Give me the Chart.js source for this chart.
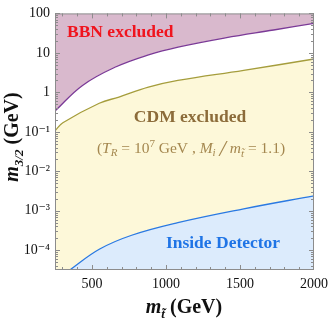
<!DOCTYPE html>
<html><head><meta charset="utf-8">
<script src="https://cdn.jsdelivr.net/npm/chart.js@4/dist/chart.umd.min.js"></script>
<style>html,body{margin:0;padding:0;background:#fff}</style>
</head><body>
<canvas id="c" width="334" height="321"></canvas>
<script>
// ---- data ----
const bbnMass = [250, 436, 663, 882, 1082, 1401, 1727, 2000];
const bbnM32  = [0.335, 1.5, 4.45, 8.9, 14, 24, 38, 56];
const cdmMass = [250, 303, 549, 682, 881, 1080, 1525, 2000];
const cdmM32  = [0.106, 0.17, 0.53, 0.76, 1.35, 2.0, 3.6, 7.0];
const detMass = [350, 549, 768, 1080, 1525, 2000];
const detM32  = [3.16e-5, 1.06e-4, 2.4e-4, 5.0e-4, 1.12e-3, 2.4e-3];
const xTicks = [500, 1000, 1500, 2000];
const yTicks = [1e-4, 1e-3, 1e-2, 1e-1, 1, 10, 100];
const yTickLabels = ['10⁻⁴', '10⁻³', '10⁻²', '10⁻¹', '1', '10', '100'];

const SERIF = '"Liberation Serif", "DejaVu Serif", serif';
const pts = (xs, ys) => xs.map((x, i) => ({x, y: ys[i]}));

function drawRich(ctx, segs, x, y, align) {
  let w = 0;
  segs.forEach(s => { ctx.font = s[1]; w += ctx.measureText(s[0]).width; });
  let cx = align === 'left' ? x : x - w / 2;
  ctx.textAlign = 'left';
  segs.forEach(s => {
    ctx.font = s[1];
    ctx.fillText(s[0], cx, y + (s[2] || 0));
    cx += ctx.measureText(s[0]).width;
  });
}

const framePlugin = {
  id: 'frame',
  afterDatasetsDraw(chart) {
    const {ctx, chartArea: a, scales: {x, y}} = chart;
    ctx.save();
    ctx.strokeStyle = '#8c8c8c';
    ctx.lineWidth = 1;
    ctx.strokeRect(a.left + 0.5, a.top + 0.5, a.right - a.left - 1, a.bottom - a.top - 1);
    ctx.beginPath();
    for (let v = 300; v <= 1900; v += 100) {
      const px = Math.round(x.getPixelForValue(v)) + 0.5;
      const L = v % 500 === 0 ? 5 : 3;
      ctx.moveTo(px, a.bottom); ctx.lineTo(px, a.bottom - L);
      ctx.moveTo(px, a.top); ctx.lineTo(px, a.top + L);
    }
    for (let e = -5; e <= 2; e++) {
      for (let k = 1; k <= 9; k++) {
        const v = k * Math.pow(10, e);
        if (v < y.min || v > y.max) continue;
        const py = Math.round(y.getPixelForValue(v)) + 0.5;
        const L = k === 1 ? 5 : 3;
        ctx.moveTo(a.left, py); ctx.lineTo(a.left + L, py);
        ctx.moveTo(a.right, py); ctx.lineTo(a.right - L, py);
      }
    }
    ctx.stroke();
    ctx.restore();
  },
  afterDraw(chart) {
    const {ctx} = chart;
    ctx.save();
    ctx.textBaseline = 'alphabetic';
    // region labels
    ctx.fillStyle = '#f0141e';
    ctx.font = 'bold 17.5px ' + SERIF;
    ctx.textAlign = 'left';
    ctx.fillText('BBN excluded', 67, 37);
    ctx.fillStyle = '#8c6c3a';
    ctx.textAlign = 'center';
    ctx.fillText('CDM excluded', 190, 122);
    ctx.fillStyle = '#1f74e6';
    ctx.fillText('Inside Detector', 223, 248);
    // parameter line
    ctx.fillStyle = '#a4874f';
    const fs = 15.5;
    const b = fs + 'px ' + SERIF, it = 'italic ' + fs + 'px ' + SERIF,
          sb = 'italic 11px ' + SERIF, sp = '11px ' + SERIF;
    drawRich(ctx, [
      ['(', b], ['T', it], ['R', sb, 3], [' = 10', b], ['7', sp, -6], [' GeV , ', b],
      ['M', it], ['i', sb, 3], [' ', b], ['/', 'italic 23px ' + SERIF, 3], [' ', b],
      ['m', it], ['t\u0303', sb, 4], [' = 1.1)', b]
    ], 191, 153, 'center');
    // axis titles
    ctx.fillStyle = '#111';
    const T = 'bold 20px ' + SERIF, TI = 'bold italic 20px ' + SERIF, TS = 'bold italic 13px ' + SERIF;
    drawRich(ctx, [['m', TI], ['t\u0303', TS, 5], [' (GeV)', T]], 184, 313, 'center');
    ctx.save();
    ctx.translate(18, 137);
    ctx.rotate(-Math.PI / 2);
    drawRich(ctx, [['m', TI], ['3/2', TS, 5], [' (GeV)', T]], 0, 0, 'center');
    ctx.restore();
    ctx.restore();
  }
};

const common = {pointRadius: 0, borderWidth: 1.3, tension: 0.4};

new Chart(document.getElementById('c'), {
  type: 'line',
  data: {
    datasets: [
      Object.assign({label: 'Inside Detector', data: pts(detMass, detM32),
        borderColor: '#2a79e2', backgroundColor: '#dcebfc', fill: 'start'}, common),
      Object.assign({label: 'CDM excluded', data: pts(cdmMass, cdmM32),
        borderColor: '#a59d3c', backgroundColor: '#fdf8d9', fill: 'start'}, common),
      Object.assign({label: 'BBN excluded', data: pts(bbnMass, bbnM32),
        borderColor: '#7b3a97', backgroundColor: '#d9b9cd', fill: 'end'}, common)
    ]
  },
  options: {
    responsive: false,
    devicePixelRatio: 1,
    animation: false,
    layout: {padding: {top: 9, right: 15, left: 0, bottom: 0}},
    plugins: {legend: {display: false}, tooltip: {enabled: false}},
    scales: {
      x: {
        type: 'linear', min: 250, max: 2000,
        afterBuildTicks: s => { s.ticks = xTicks.map(v => ({value: v})); },
        afterFit: s => { s.height = 51; },
        grid: {display: false, drawTicks: false}, border: {display: false},
        ticks: {font: {family: SERIF, size: 14}, color: '#111', padding: 6, maxRotation: 0, autoSkip: false,
          callback: v => String(v)}
      },
      y: {
        type: 'logarithmic', min: Math.pow(10, -4.5), max: 100,
        afterBuildTicks: s => { s.ticks = yTicks.map(v => ({value: v})); },
        afterFit: s => { s.width = 55; },
        grid: {display: false, drawTicks: false}, border: {display: false},
        ticks: {font: {family: SERIF, size: 14}, color: '#111', padding: 5, autoSkip: false,
          callback: (v, i) => yTickLabels[i]}
      }
    }
  },
  plugins: [framePlugin]
});
</script>
</body></html>
